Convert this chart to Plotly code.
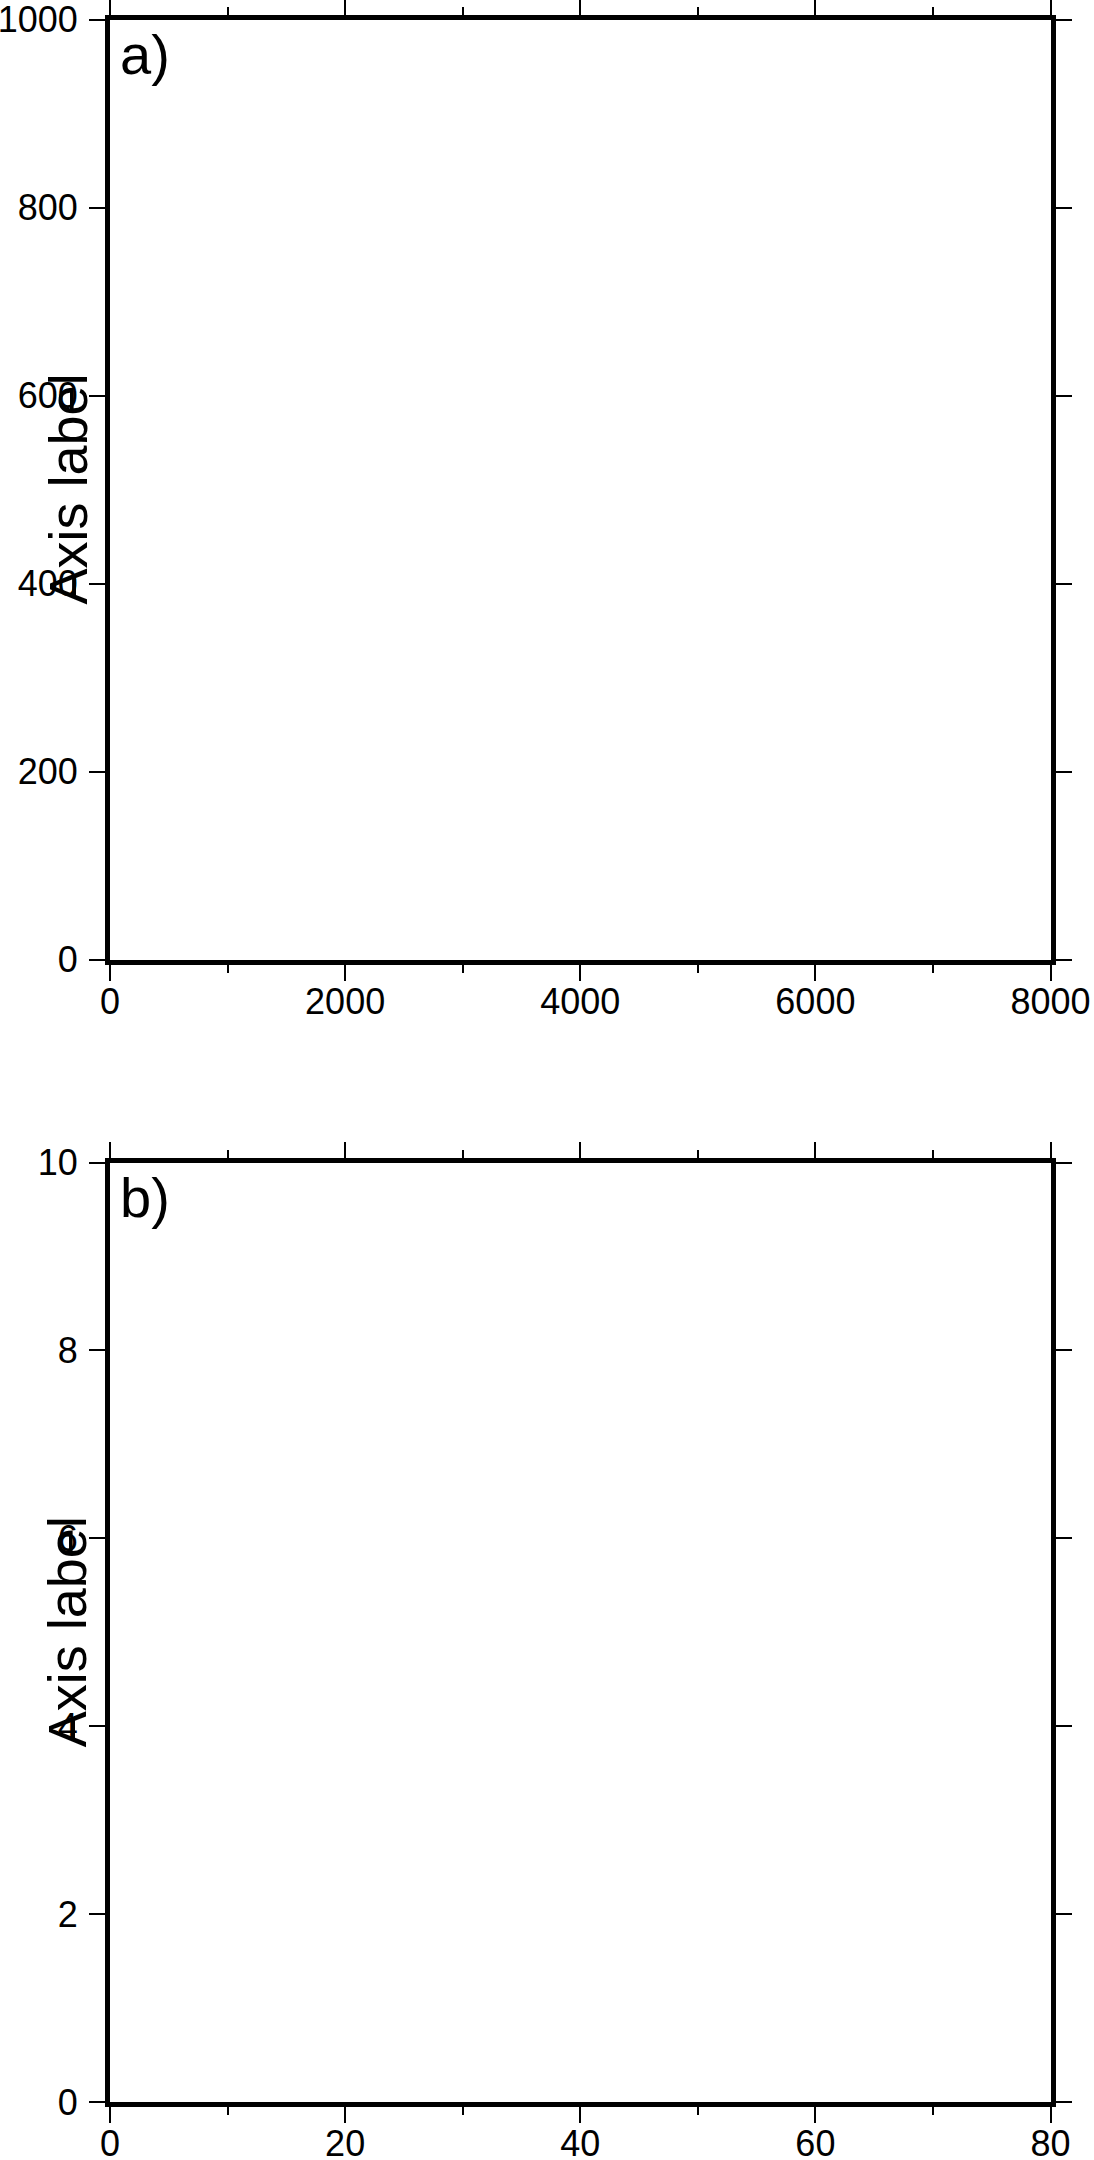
import plotly.graph_objects as go

W, H = 1094, 2160

panel_labels = ["a)", "b)"]
x_ranges = [[0, 8000], [0, 80]]
y_ranges = [[0, 1000], [0, 10]]
x_major = [2000, 20]
x_minor = [1000, 10]
y_major = [200, 2]
axis_title = "Axis label"

FONT = "Liberation Sans, Arial, Helvetica, sans-serif"

# frame centre-line positions in pixels
left_px, right_px = 107.5, 1053
panels_px = [(17, 962), (1160, 2104.5)]
LW = 5

fig = go.Figure()

dom_x = [(left_px + LW / 2) / W, (right_px - LW / 2) / W]

for i in range(2):
    top, bot = panels_px[i]
    dom_y = [1 - (bot - LW / 2) / H, 1 - (top + LW / 2) / H]
    xa = "xaxis" if i == 0 else f"xaxis{i+1}"
    ya = "yaxis" if i == 0 else f"yaxis{i+1}"
    xr = "x" if i == 0 else f"x{i+1}"
    yr = "y" if i == 0 else f"y{i+1}"
    fig.add_trace(go.Scatter(x=[], y=[], xaxis=xr, yaxis=yr, showlegend=False))
    common = dict(
        showgrid=False, zeroline=False, showline=True, linewidth=LW, linecolor="black",
        mirror="ticks", ticks="outside", ticklen=16, tickwidth=2, tickcolor="black",
        tickfont=dict(family=FONT, size=36, color="black"), automargin=False,
        ticklabeloverflow="allow",
    )
    fig.layout[xa] = dict(
        domain=dom_x, range=x_ranges[i], dtick=x_major[i], tick0=0, anchor=yr,
        ticklabelstandoff=-10,
        minor=dict(dtick=x_minor[i], tick0=0, ticks="outside", ticklen=8, tickwidth=2, tickcolor="black"),
        **common,
    )
    fig.layout[ya] = dict(
        domain=dom_y, range=y_ranges[i], dtick=y_major[i], tick0=0, anchor=xr,
        ticklabelstandoff=4,
        **common,
    )
    fig.add_annotation(
        text=axis_title, textangle=-90, xref="paper", yref="paper",
        x=67 / W, y=1 - ((top + bot) / 2) / H, xanchor="center", yanchor="middle",
        showarrow=False, font=dict(family=FONT, size=54, color="black"),
    )
    fig.add_annotation(
        text=panel_labels[i], xref="paper", yref="paper",
        x=118 / W, y=1 - (top + 4) / H, xanchor="left", yanchor="top",
        showarrow=False, font=dict(family=FONT, size=56, color="black"),
    )

fig.update_layout(
    template="none",
    width=W, height=H, margin=dict(l=0, r=0, t=0, b=0, autoexpand=False),
    paper_bgcolor="white", plot_bgcolor="white",
)

fig.write_html(
    "out.html",
    config={"displayModeBar": False},
    post_script="document.body.style.margin='0';document.body.style.overflow='hidden';",
)
